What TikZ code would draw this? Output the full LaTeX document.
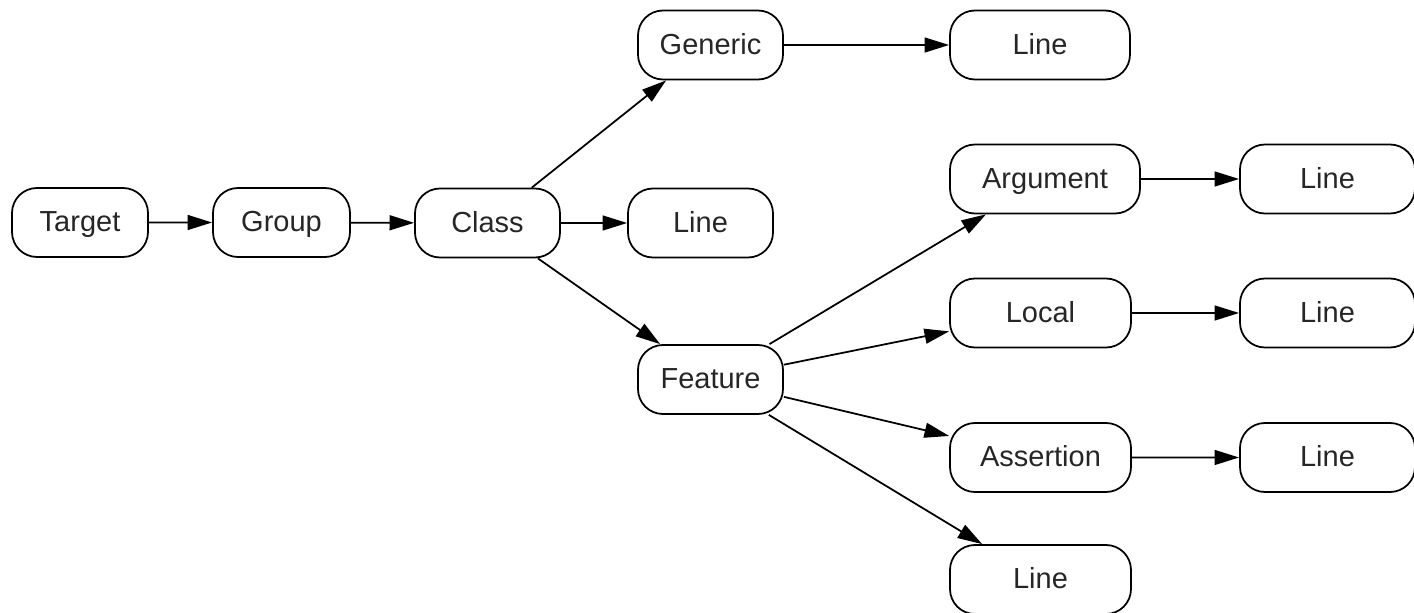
\documentclass[tikz,border=0pt]{standalone}
\usepackage{fontspec}
\setmainfont{Liberation Sans}
\usetikzlibrary{arrows.meta}

\begin{document}
\begin{tikzpicture}[scale=0.2]
\tikzstyle{every node}+=[inner sep=0pt]
\tikzstyle{box}=[draw=black, line width=1pt, rounded corners=0.5cm, minimum height=1.38cm, text height=12pt, text depth=1.5pt, font=\fontsize{16.5}{18}\selectfont, text=black!85]
\tikzstyle{link}=[black, line width=1pt, -{Triangle[length=14pt,width=8.5pt]}]
\useasboundingbox (0,0) rectangle (141.4,-61.3);
\node [box, minimum width=2.72cm] (target) at (8,-22.25) {Target};
\node [box, minimum width=2.74cm] (group) at (28.15,-22.25) {Group};
\node [box, minimum width=2.9cm] (class) at (48.75,-22.3) {Class};
\node [box, minimum width=2.9cm] (classline) at (70.05,-22.3) {Line};
\node [box, minimum width=2.9cm] (generic) at (71.05,-4.5) {Generic};
\node [box, minimum width=3.6cm] (genericline) at (104,-4.5) {Line};
\node [box, minimum width=2.9cm] (feature) at (71.05,-37.95) {Feature};
\node [box, minimum width=3.8cm] (argument) at (104.5,-17.9) {Argument};
\node [box, minimum width=3.5cm] (argumentline) at (132.75,-17.9) {Line};
\node [box, minimum width=3.62cm] (local) at (104.05,-31.3) {Local};
\node [box, minimum width=3.5cm] (localline) at (132.75,-31.3) {Line};
\node [box, minimum width=3.62cm] (assertion) at (104.05,-45.75) {Assertion};
\node [box, minimum width=3.5cm] (assertionline) at (132.75,-45.75) {Line};
\node [box, minimum width=3.62cm] (featureline) at (104.05,-57.95) {Line};
% main chain
\draw [link] (target) -- (group);
\draw [link] (group) -- (class);
\draw [link] (class) -- (classline);
\draw [link] (class) -- (generic);
\draw [link] (class) -- (feature);
\draw [link] (generic) -- (genericline);
% feature branches
\draw [link] (feature) -- (argument);
\draw [link] (feature) -- (local);
\draw [link] (feature) -- (assertion);
\draw [link] (feature) -- (featureline);
\draw [link] (argument) -- (argumentline);
\draw [link] (local) -- (localline);
\draw [link] (assertion) -- (assertionline);
\end{tikzpicture}
\end{document}
